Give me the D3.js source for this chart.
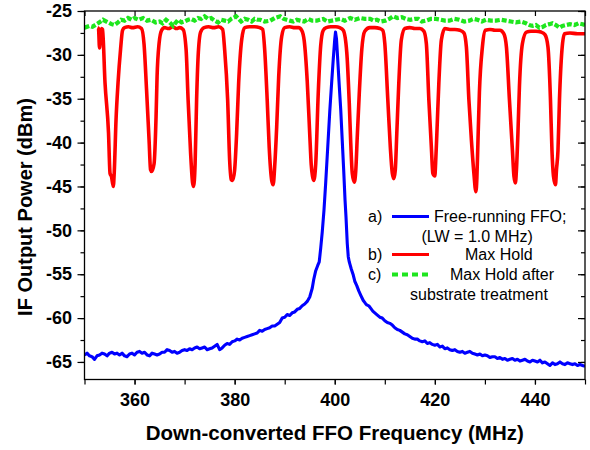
<!DOCTYPE html>
<html>
<head>
<meta charset="utf-8">
<script src="https://cdnjs.cloudflare.com/ajax/libs/d3/7.8.5/d3.min.js"></script>
<style>
  body { margin: 0; background: #fff; }
  svg { display: block; font-family: Arial, "Liberation Sans", sans-serif; }
  .tick text { font-weight: bold; font-size: 18px; fill: #000; }
  .tick line { stroke: #000; stroke-width: 1.2; }
  .legend text { font-size: 16px; fill: #000; }
</style>
</head>
<body>
<svg width="590" height="450"></svg>
<script>
// x: down-converted FFO frequency (MHz), y: IF output power (dBm)
var xLabels = [360, 380, 400, 420, 440];
var yLabels = [-25, -30, -35, -40, -45, -50, -55, -60, -65];

// a) free-running FFO
var freeRunning = [
  [350,-64.2],[350.5,-64.0],[351,-64.3],[351.5,-64.4],[352,-64.7],[352.5,-64.3],[353,-64.2],[353.5,-64.0],
  [354,-64.1],[354.5,-64.3],[355,-64.0],[355.5,-63.9],[356,-64.1],[356.5,-64.0],[357,-64.2],[357.5,-64.0],
  [358,-64.3],[358.5,-64.4],[359,-64.1],[359.5,-64.0],[360,-64.2],[360.5,-63.9],[361,-63.8],[361.5,-64.0],
  [362,-63.9],[362.5,-64.2],[363,-64.3],[363.5,-64.0],[364,-64.1],[364.5,-64.2],[365,-64.1],[365.5,-63.9],
  [366,-63.9],[366.5,-63.6],[367,-63.7],[367.5,-63.9],[368,-63.8],[368.5,-64.0],[369,-63.9],[369.5,-63.7],
  [370,-63.6],[370.5,-63.7],[371,-63.5],[371.5,-63.6],[372,-63.4],[372.5,-63.3],[373,-63.5],[373.5,-63.4],
  [374,-63.3],[374.5,-63.6],[375,-63.5],[375.5,-63.4],[376,-63.2],[376.5,-63.0],[377,-63.6],[377.5,-63.4],
  [378,-63.1],[378.5,-62.9],[379,-63.0],[379.5,-62.7],[380,-62.6],[380.5,-62.4],[381,-62.5],[381.5,-62.3],
  [382,-62.2],[382.5,-62.1],[383,-62.0],[383.5,-61.9],[384,-61.8],[384.5,-61.7],[385,-61.4],[385.5,-61.5],
  [386,-61.3],[386.5,-61.2],[387,-61.1],[387.5,-60.9],[388,-60.9],[388.5,-60.7],[389,-60.5],[389.5,-60.0],
  [390,-59.9],[390.5,-59.6],[391,-59.7],[391.5,-59.4],[392,-59.3],[392.5,-59.0],[393,-58.9],[393.5,-58.6],
  [394,-58.4],[394.5,-58.1],[395,-57.6],[395.5,-56.6],[395.8,-55.6],[396.2,-54.6],[396.6,-54.0],[396.9,-53.6],
  [397.2,-52.0],[397.5,-50.2],[397.85,-47.7],[398.2,-44.5],[398.6,-40.5],[399.0,-36.5],[399.4,-33.0],[399.7,-30.5],
  [400.0,-28.2],[400.15,-27.4],[400.35,-28.2],[400.6,-30.6],[400.9,-33.5],[401.2,-36.3],[401.5,-39.8],[401.8,-43.3],
  [402.05,-46.5],[402.25,-48.5],[402.5,-51.5],[402.7,-53.0],[402.9,-53.6],[403.3,-54.4],[403.7,-55.1],[404.0,-55.8],
  [404.4,-56.3],[404.8,-56.9],[405.2,-57.4],[405.7,-58.0],[406.1,-58.3],[406.4,-58.5],[406.8,-58.6],[407.2,-58.9],
  [407.6,-59.2],[408,-59.4],[408.4,-59.6],[409,-59.9],[409.5,-60.0],[410,-60.3],[410.5,-60.5],[411,-60.6],
  [411.5,-60.8],[412,-61.1],[412.5,-61.3],[413,-61.4],[413.5,-61.6],[414,-61.8],[414.5,-61.9],[415,-62.1],
  [415.5,-62.3],[416,-62.4],[416.5,-62.4],[417,-62.6],[417.5,-62.7],[418,-62.6],[418.5,-62.9],[419,-62.8],
  [419.5,-63.0],[420,-63.1],[420.5,-63.0],[421,-63.3],[421.5,-63.2],[422,-63.5],[422.5,-63.4],[423,-63.6],
  [423.5,-63.7],[424,-63.6],[424.5,-63.8],[425,-63.9],[425.5,-63.8],[426,-64.0],[426.5,-63.9],[427,-63.8],
  [427.5,-64.0],[428,-64.1],[428.5,-64.2],[429,-64.1],[429.5,-64.3],[430,-64.2],[430.5,-64.3],[431,-64.5],
  [431.5,-64.4],[432,-64.4],[432.5,-64.6],[433,-64.5],[433.5,-64.7],[434,-64.6],[434.5,-64.8],[435,-64.7],
  [435.5,-64.6],[436,-64.8],[436.5,-64.7],[437,-64.9],[437.5,-64.8],[438,-64.7],[438.5,-64.9],[439,-65.0],
  [439.5,-64.8],[440,-64.9],[440.5,-65.0],[441,-64.8],[441.5,-65.1],[442,-65.0],[442.5,-65.2],[443,-65.4],
  [443.5,-65.1],[444,-65.3],[444.5,-65.2],[445,-65.0],[445.5,-65.2],[446,-65.3],[446.5,-65.1],[447,-65.2],
  [447.5,-65.3],[448,-65.2],[448.5,-65.4],[449,-65.3],[449.5,-65.4],[450,-65.5]
];

// b) max hold
var maxHold = [
  [352.6,-26.9],[352.8,-27.0],[353.0,-29.2],[353.2,-27.8],[353.4,-27.0],[353.6,-27.1],
  [354.1,-33.2],[354.8,-38.9],[355.1,-43.5],[355.4,-43.9],[355.75,-45.0],[355.95,-43.3],[356.3,-37.4],[356.7,-33.2],[357.2,-29.4],[357.6,-27.2],[358.0,-26.9],
  [358.8,-26.8],[359.6,-26.9],[360.6,-26.8],[361.4,-27.0],
  [361.9,-28.8],[362.4,-34.0],[362.9,-39.7],[363.2,-43.1],[363.4,-43.3],[363.9,-42.4],[364.3,-37.0],[364.5,-32.5],[364.9,-28.7],[365.4,-27.2],[366.0,-26.9],
  [366.8,-27.0],[367.6,-26.8],[368.4,-27.0],[369.0,-26.9],[369.7,-27.1],
  [370.3,-29.4],[370.7,-35.1],[371.2,-41.2],[371.6,-44.6],[371.8,-45.0],[372.1,-42.4],[372.4,-35.1],[372.7,-30.2],[373.2,-27.4],[373.9,-26.9],
  [374.8,-26.8],[375.8,-26.9],[376.8,-26.8],[377.6,-27.1],
  [378.0,-29.4],[378.6,-35.1],[379.0,-42.0],[379.3,-44.2],[379.6,-44.3],[380.0,-43.1],[380.4,-38.9],[380.8,-33.2],[381.4,-28.3],[382.0,-26.9],
  [383.0,-26.8],[384.0,-26.8],[385.0,-26.9],[385.6,-27.1],
  [386.0,-29.4],[386.5,-35.1],[386.9,-40.5],[387.4,-44.3],[387.7,-44.8],[388.0,-42.7],[388.4,-38.2],[388.8,-32.5],[389.4,-27.9],[390.0,-26.9],
  [391.0,-26.8],[392.0,-26.9],[392.8,-26.9],[393.4,-27.2],
  [393.9,-28.4],[394.5,-33.0],[395.0,-39.0],[395.3,-42.5],[395.55,-43.8],[395.8,-44.3],[396.2,-42.4],[396.7,-34.4],[397.2,-28.9],[397.7,-27.2],[398.3,-26.9],
  [399.2,-26.8],[400.2,-26.8],[401.0,-26.9],
  [401.7,-27.2],[402.4,-29.7],[402.9,-35.5],[403.2,-40.1],[403.5,-43.5],[403.9,-44.5],[404.2,-43.2],[404.5,-39.3],[404.9,-34.4],[405.4,-29.4],[406.0,-27.3],[407.0,-26.9],
  [408.0,-26.9],[409.0,-27.0],[409.6,-27.2],
  [410.0,-28.7],[410.6,-35.1],[411.1,-40.5],[411.5,-43.5],[411.8,-44.1],[412.1,-43.1],[412.4,-38.9],[412.8,-33.2],[413.3,-28.3],[414.0,-27.0],
  [415.0,-26.9],[416.0,-27.0],[417.0,-27.0],[417.8,-27.3],
  [418.3,-28.7],[418.8,-35.1],[419.3,-40.5],[419.6,-43.5],[420.0,-43.8],[420.15,-42.4],[420.4,-39.0],[420.8,-33.2],[421.3,-28.3],[422.0,-27.0],
  [423.0,-27.1],[424.0,-27.1],[425.0,-27.2],[425.8,-27.5],
  [426.3,-29.1],[426.8,-35.1],[427.3,-39.7],[427.8,-43.5],[428.2,-45.6],[428.4,-44.0],[428.6,-40.1],[428.9,-34.3],[429.5,-29.1],[430.1,-27.2],
  [431.0,-27.1],[432.0,-27.2],[433.0,-27.2],[433.8,-27.6],
  [434.3,-29.1],[434.9,-35.1],[435.5,-40.9],[435.8,-43.8],[436.1,-44.6],[436.3,-43.1],[436.6,-38.9],[436.9,-33.6],[437.5,-28.7],[438.3,-27.4],
  [439.2,-27.3],[440.2,-27.3],[441.2,-27.4],[442.0,-27.7],
  [442.6,-29.1],[443.1,-35.1],[443.4,-40.9],[443.7,-43.8],[444.1,-44.8],[444.3,-43.1],[444.6,-40.9],[444.9,-35.1],[445.4,-29.4],[445.9,-27.6],
  [447.0,-27.5],[448.5,-27.6],[450.0,-27.6]
];

// c) max hold after substrate treatment
var maxHoldTreated = [
  [350,-26.9],[351,-26.7],[351.6,-26.8],[352.7,-26.4],[353.7,-26.0],[354.7,-26.3],[355.4,-26.5],[356,-26.6],
  [356.7,-26.3],[357.3,-26.0],[358,-26.1],[358.7,-25.8],[359.4,-26.0],[360,-25.8],[360.8,-26.0],[361.7,-25.8],
  [362.5,-26.1],[363.3,-26.0],[364.2,-26.3],[365,-26.2],[365.6,-26.4],[366.3,-26.0],[367,-26.3],[367.7,-26.7],
  [368.7,-26.0],[369.4,-26.3],[370,-26.2],[370.7,-26.0],[371.3,-25.9],[372,-26.1],[372.7,-25.8],[373.3,-25.9],
  [374,-25.6],[374.7,-25.9],[375.3,-25.8],[376,-26.1],[376.7,-26.3],[377.3,-26.0],[378,-26.1],[378.7,-26.2],
  [379.3,-25.9],[380.3,-25.6],[380.8,-25.9],[381.3,-26.2],[382,-25.9],[382.7,-26.0],[383.4,-26.2],[384,-25.9],
  [384.6,-26.0],[385.1,-26.0],[386,-26.2],[387.1,-26.1],[388,-25.8],[389.1,-25.6],[389.8,-25.9],[390.4,-26.0],
  [391,-26.1],[391.7,-26.2],[392.4,-26.0],[393.1,-26.1],[393.9,-26.2],[394.7,-25.9],[395.5,-26.1],[396.4,-26.1],
  [397,-26.0],[397.7,-25.9],[398.5,-26.2],[399.4,-26.1],[400.2,-26.0],[401.1,-25.9],[402,-26.1],[403.1,-25.8],
  [404,-26.0],[405.1,-25.8],[406,-25.9],[407.1,-25.9],[407.8,-26.1],[408.4,-26.0],[409.2,-26.2],[410.1,-26.1],
  [410.9,-25.9],[411.7,-25.6],[412.5,-25.8],[413.4,-25.7],[414.2,-25.9],[415.1,-26.0],[416,-25.9],[416.7,-25.9],
  [417.4,-26.2],[418.2,-26.1],[419.2,-25.9],[420.2,-25.9],[421.2,-26.0],[422,-26.1],[422.9,-26.1],[423.9,-25.9],
  [424.9,-26.0],[425.9,-26.2],[426.9,-26.1],[427.7,-25.9],[428.5,-26.0],[429.4,-26.2],[430.2,-26.0],[431.2,-26.1],
  [432.2,-26.1],[433.2,-26.0],[434.2,-26.1],[435.2,-26.2],[436.2,-26.3],[437.2,-26.2],[438.2,-26.4],[438.9,-26.6],
  [439.5,-26.7],[440.2,-26.6],[440.9,-26.9],[441.6,-26.8],[442.2,-26.6],[442.9,-26.5],[443.5,-26.4],[444.2,-26.6],
  [444.9,-26.9],[445.5,-26.7],[446.2,-26.6],[447,-26.5],[447.9,-26.6],[448.7,-26.4],[449.5,-26.5],[450,-26.6]
];

var legendItems = [
  {tag: "a)", lines: ["Free-running FFO;", "(LW = 1.0 MHz)"], color: "#0000ff", dash: null},
  {tag: "b)", lines: ["Max Hold"], color: "#ff0000", dash: null},
  {tag: "c)", lines: ["Max Hold after", "substrate treatment"], color: "#1ee61e", dash: "6,4"}
];

var svg = d3.select("svg"),
  margin = {top: 11, right: 5, bottom: 70.5, left: 84.5},
  width = svg.attr("width") - margin.left - margin.right,
  height = svg.attr("height") - margin.top - margin.bottom,
  g = svg.append("g").attr("transform", "translate(" + margin.left + "," + margin.top + ")");

var x = d3.scaleLinear().domain([350, 450]).range([0, width]),
  y = d3.scaleLinear().domain([-67, -25]).range([height, 0]);

g.append("clipPath").attr("id", "plot-clip")
  .append("rect").attr("width", width).attr("height", height);

var line = d3.line()
  .x(function(d) { return x(d[0]); })
  .y(function(d) { return y(d[1]); });

var xMinor = x.ticks(10);
var yMinor = d3.range(-65, -24, 2.5);

// bottom axis (outward ticks) + labels
g.append("g")
  .attr("transform", "translate(0," + height + ")")
  .call(d3.axisBottom(x).tickValues(xMinor).tickSize(5).tickFormat(""));
g.append("g")
  .attr("transform", "translate(0," + height + ")")
  .call(d3.axisBottom(x).tickValues(xLabels).tickSize(5).tickPadding(8.5).tickFormat(function(d) { return String(d); }));
// top axis (inward ticks)
g.append("g")
  .call(d3.axisBottom(x).tickValues(xMinor).tickSize(5).tickFormat(""));

// left axis
g.append("g")
  .call(d3.axisLeft(y).tickValues(yMinor).tickSize(4).tickFormat(""));
g.append("g")
  .call(d3.axisLeft(y).tickValues(yLabels).tickSize(7).tickPadding(5.5).tickFormat(function(d) { return String(d); }));
// right axis (inward ticks)
g.append("g")
  .attr("transform", "translate(" + width + ",0)")
  .call(d3.axisLeft(y).tickValues(yMinor).tickSize(4).tickFormat(""));
g.append("g")
  .attr("transform", "translate(" + width + ",0)")
  .call(d3.axisLeft(y).tickValues(yLabels).tickSize(7).tickFormat(""));

g.selectAll(".domain").remove();

var plot = g.append("g").attr("clip-path", "url(#plot-clip)");

plot.append("path")
  .datum(maxHold)
  .attr("fill", "none")
  .attr("stroke", "#ff0000")
  .attr("stroke-width", 3.6)
  .attr("stroke-linejoin", "round")
  .attr("d", line.curve(d3.curveMonotoneX));

plot.append("path")
  .datum(maxHoldTreated)
  .attr("fill", "none")
  .attr("stroke", "#1ee61e")
  .attr("stroke-width", 4.2)
  .attr("stroke-dasharray", "5,2")
  .attr("d", line.curve(d3.curveLinear));

plot.append("path")
  .datum(freeRunning)
  .attr("fill", "none")
  .attr("stroke", "#0000ff")
  .attr("stroke-width", 3.1)
  .attr("stroke-linejoin", "round")
  .attr("d", line.curve(d3.curveLinear));

// frame
g.append("rect")
  .attr("width", width)
  .attr("height", height)
  .attr("fill", "none")
  .attr("stroke", "#000")
  .attr("stroke-width", 1.3);

// axis titles
svg.append("text")
  .attr("x", margin.left + width / 2)
  .attr("y", 440)
  .attr("text-anchor", "middle")
  .style("font-weight", "bold")
  .style("font-size", "20.5px")
  .text("Down-converted FFO Frequency (MHz)");

svg.append("text")
  .attr("transform", "rotate(-90)")
  .attr("x", -207)
  .attr("y", 32)
  .attr("text-anchor", "middle")
  .style("font-weight", "bold")
  .style("font-size", "20px")
  .text("IF Output Power (dBm)");

// legend
var legend = svg.append("g").attr("class", "legend");
var rowY = [216.5, 254.5, 274.5];
var textX = [[434, 421.5], [465], [450, 410]];
legendItems.forEach(function(item, i) {
  legend.append("text").attr("x", 368).attr("y", rowY[i]).attr("dy", "0.35em").text(item.tag);
  legend.append("line")
    .attr("x1", 392).attr("x2", 429)
    .attr("y1", rowY[i]).attr("y2", rowY[i])
    .attr("stroke", item.color)
    .attr("stroke-width", item.dash ? 4 : 3)
    .attr("stroke-dasharray", item.dash);
  item.lines.forEach(function(t, j) {
    legend.append("text")
      .attr("x", textX[i][j])
      .attr("y", rowY[i] + j * 19.5)
      .attr("dy", "0.35em")
      .text(t);
  });
});
</script>
</body>
</html>
